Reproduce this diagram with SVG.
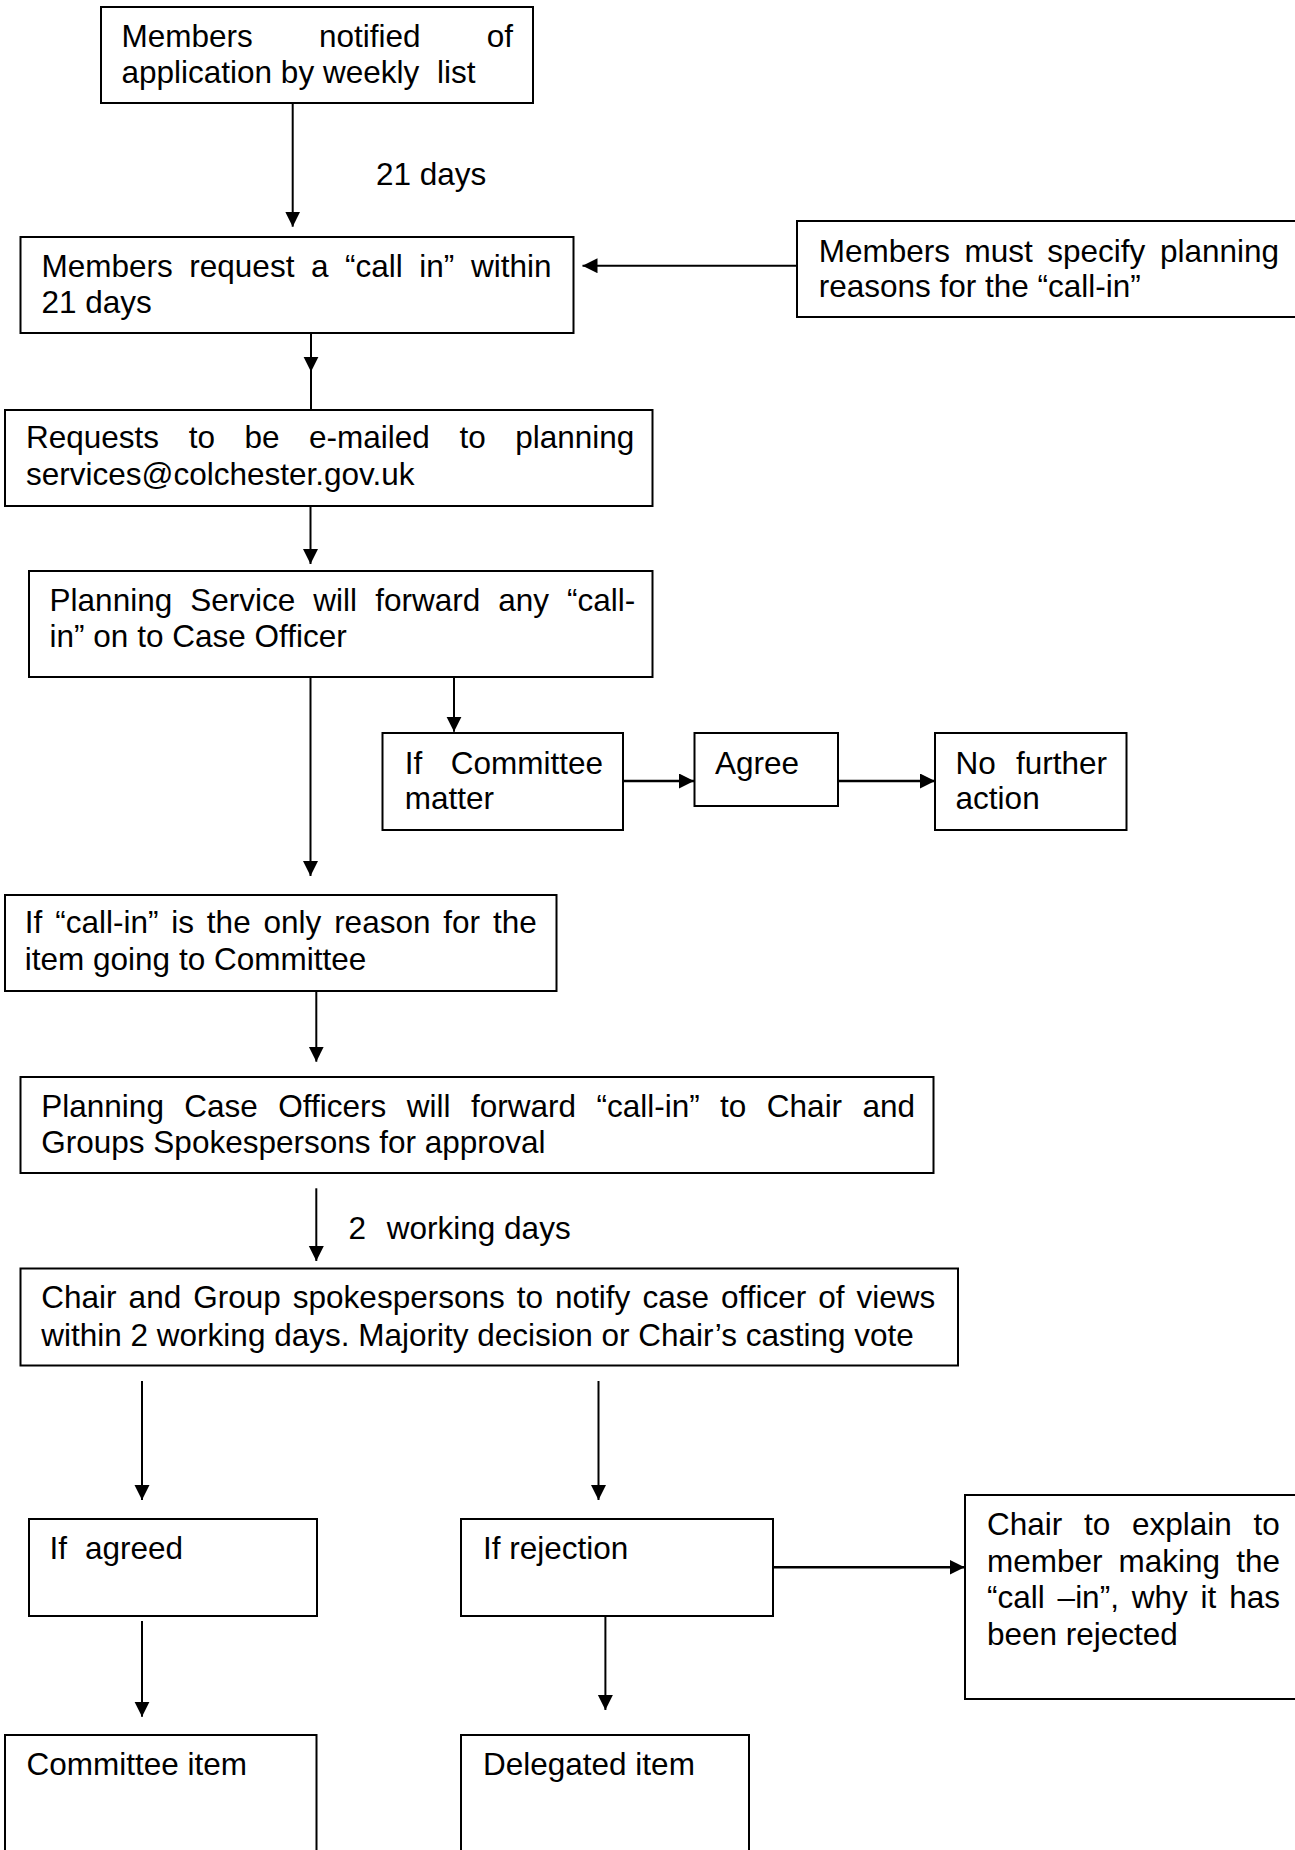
<svg xmlns="http://www.w3.org/2000/svg" width="1295" height="1850" viewBox="0 0 1295 1850">
<style>
.box{fill:#fff;stroke:#000;stroke-width:2}
text{font-family:"Liberation Sans",Arial,sans-serif;font-size:31.5px;fill:#000}
.c{fill:none;stroke:#000;stroke-width:2}
.ct{fill:none;stroke:#000;stroke-width:2.5}
</style>
<defs>
<marker id="ah" markerUnits="userSpaceOnUse" markerWidth="16" markerHeight="16" refX="15" refY="7.5" orient="auto">
<path d="M0,0 L15,7.5 L0,15 z" fill="#000"/>
</marker>
</defs>
<rect width="1295" height="1850" fill="#fff"/>

<g id="n1">
<rect class="box" x="101" y="7" width="432" height="96"/>
<text x="121.5" y="46.7" word-spacing="57.5">Members notified of</text>
<text x="121.5" y="82.7">application by weekly <tspan x="437">list</tspan></text>
</g>
<g id="n2">
<rect class="box" x="20.5" y="237" width="553" height="96"/>
<text x="41.5" y="276.7" word-spacing="7.8">Members request a “call in” within</text>
<text x="41.5" y="313.3">21 days</text>
</g>
<g id="n3">
<rect class="box" x="797" y="221" width="510" height="96"/>
<text x="818.7" y="261.7" word-spacing="5.8">Members must specify planning</text>
<text x="818.7" y="296.7">reasons for the “call-in”</text>
</g>
<g id="n4">
<rect class="box" x="5" y="410" width="647.5" height="96"/>
<text x="26" y="448.3" word-spacing="20.8">Requests to be e-mailed to planning</text>
<text x="26" y="485">services@colchester.gov.uk</text>
</g>
<g id="n5">
<rect class="box" x="29" y="571" width="623.5" height="106"/>
<text x="49.6" y="610.7" word-spacing="9.3">Planning Service will forward any “call-</text>
<text x="49.6" y="647.3">in” on to Case Officer</text>
</g>
<g id="n6">
<rect class="box" x="382.5" y="733" width="240.5" height="97"/>
<text x="404.7" y="774" word-spacing="19.8">If Committee</text>
<text x="404.7" y="809.3">matter</text>
</g>
<g id="n7">
<rect class="box" x="694.5" y="733" width="143.5" height="73"/>
<text x="715" y="774">Agree</text>
</g>
<g id="n8">
<rect class="box" x="935" y="733" width="191.5" height="97"/>
<text x="955.6" y="774" word-spacing="11.4">No further</text>
<text x="955.6" y="809.3">action</text>
</g>
<g id="n9">
<rect class="box" x="5" y="895" width="551.5" height="96"/>
<text x="24.8" y="933.3" word-spacing="4.1">If “call-in” is the only reason for the</text>
<text x="24.8" y="970">item going to Committee</text>
</g>
<g id="n10">
<rect class="box" x="20.5" y="1077" width="913" height="96"/>
<text x="41.3" y="1116.7" word-spacing="11.7">Planning Case Officers will forward “call-in” to Chair and</text>
<text x="41.3" y="1153.3">Groups Spokespersons for approval</text>
</g>
<g id="n11">
<rect class="box" x="20.5" y="1268.5" width="937.5" height="97"/>
<text x="41.3" y="1308.3" word-spacing="3.3">Chair and Group spokespersons to notify case officer of views</text>
<text x="41.3" y="1345.7">within 2 working days. Majority decision or Chair’s casting vote</text>
</g>
<g id="n12">
<rect class="box" x="29" y="1519" width="288" height="97"/>
<text x="49.6" y="1559.3" word-spacing="9.2">If agreed</text>
</g>
<g id="n13">
<rect class="box" x="461" y="1519" width="312" height="97"/>
<text x="483" y="1559.3">If rejection</text>
</g>
<g id="n14">
<rect class="box" x="965" y="1495" width="340" height="204"/>
<text x="987" y="1535" word-spacing="13">Chair to explain to</text>
<text x="987" y="1571.7" word-spacing="7.3">member making the</text>
<text x="987" y="1608.3" word-spacing="4.1">“call –in”, why it has</text>
<text x="987" y="1645">been rejected</text>
</g>
<g id="n15">
<rect class="box" x="5" y="1735" width="311.5" height="140"/>
<text x="26.4" y="1775">Committee item</text>
</g>
<g id="n16">
<rect class="box" x="461" y="1735" width="288" height="140"/>
<text x="483" y="1775">Delegated item</text>
</g>

<g id="labels">
<text x="376" y="185">21 days</text>
<text x="348.5" y="1239">2<tspan x="386.8">working days</tspan></text>
</g>

<g id="connectors">
<path class="c" d="M292.7,103 V226.7" marker-end="url(#ah)"/>
<path class="c" d="M797,265.7 H582.5" marker-end="url(#ah)"/>
<path class="c" d="M311,333 V371.7 V410" marker-mid="url(#ah)"/>
<path class="c" d="M310.5,506 V564" marker-end="url(#ah)"/>
<path class="c" d="M454,677 V731.7" marker-end="url(#ah)"/>
<path class="ct" d="M623,781 H694" marker-end="url(#ah)"/>
<path class="ct" d="M838,781 H935" marker-end="url(#ah)"/>
<path class="c" d="M310.5,677 V876" marker-end="url(#ah)"/>
<path class="c" d="M316.3,991 V1061.7" marker-end="url(#ah)"/>
<path class="c" d="M316.3,1188.3 V1261" marker-end="url(#ah)"/>
<path class="c" d="M142,1381 V1500" marker-end="url(#ah)"/>
<path class="c" d="M598.5,1381 V1500" marker-end="url(#ah)"/>
<path class="ct" d="M773,1567.3 H964.6" marker-end="url(#ah)"/>
<path class="c" d="M142,1621 V1716.7" marker-end="url(#ah)"/>
<path class="c" d="M605.4,1616 V1710" marker-end="url(#ah)"/>
</g>
</svg>
